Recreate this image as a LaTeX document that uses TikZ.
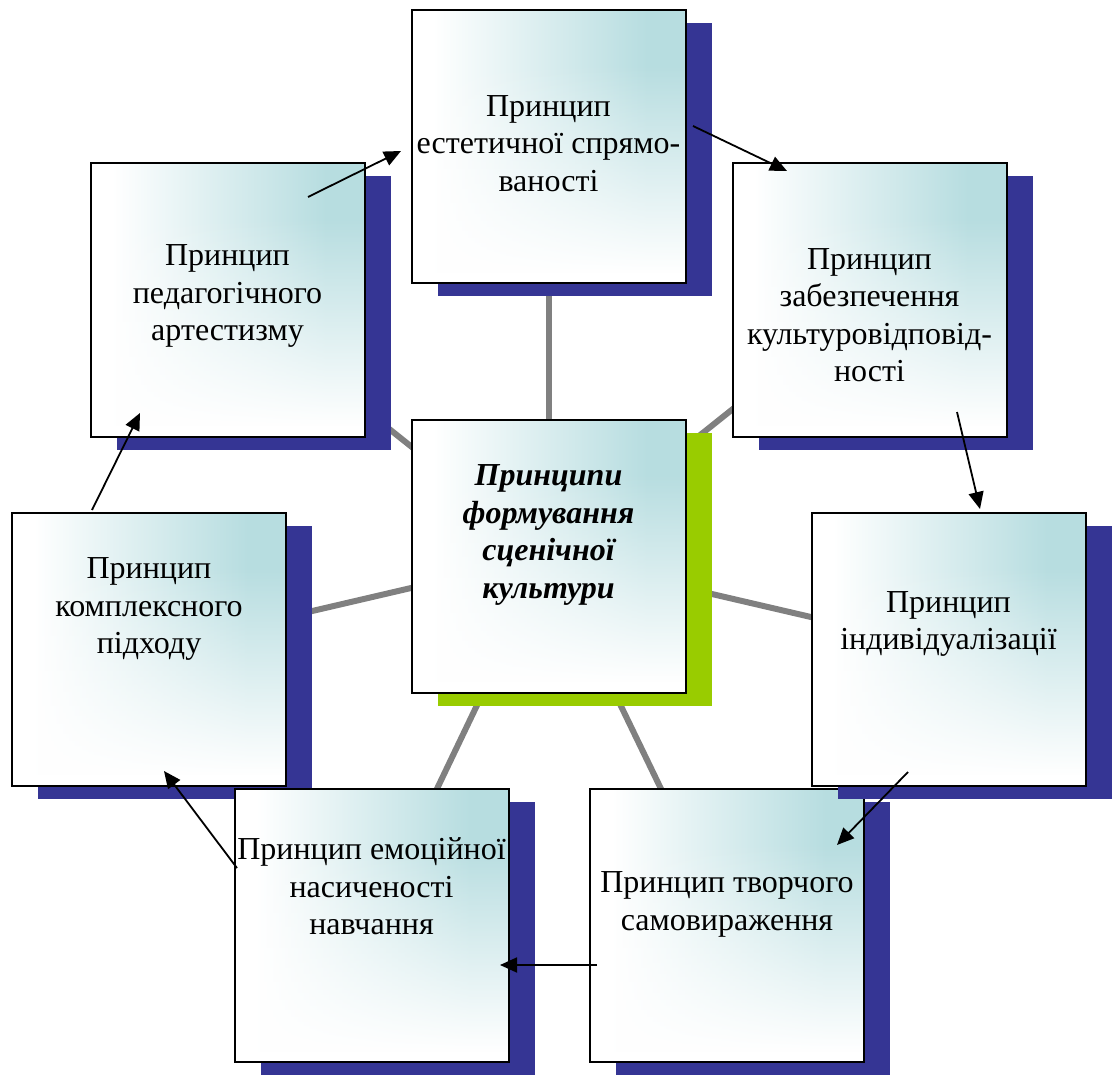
\documentclass[tikz,border=0pt]{standalone}
\usepackage{fontspec}
\setmainfont{Liberation Serif}
\usetikzlibrary{arrows.meta,shadows,fadings,calc,backgrounds}
\definecolor{boxteal}{RGB}{183,221,224}
\definecolor{shadeblue}{RGB}{53,53,148}
\definecolor{shadegreen}{RGB}{153,204,0}
\definecolor{spokegray}{RGB}{128,128,128}
\pgfdeclarehorizontalshading{boxfill}{100bp}{color(0bp)=(white); color(29bp)=(white); color(68bp)=(boxteal); color(100bp)=(boxteal)}
\pgfdeclareverticalshading{fadeupshade}{100bp}{color(0bp)=(white); color(27bp)=(white); color(65bp)=(black); color(100bp)=(black)}
\pgfdeclarefading{fadeup}{\pgfuseshading{fadeupshade}}
\tikzset{
  plainbox/.style={draw=black, line width=1pt, inner sep=0pt,
    minimum width=137pt, minimum height=136.5pt,
    preaction={shading=boxfill},
    preaction={fill=white, path fading=fadeup}},
  princ/.style={drop shadow={shadow xshift=13pt, shadow yshift=-6.5pt, fill=shadeblue, opacity=1},
    plainbox},
  core/.style={drop shadow={shadow xshift=13pt, shadow yshift=-6.5pt, fill=shadegreen, opacity=1},
    plainbox},
  ptext/.style={align=center, inner sep=0pt, font=\fontsize{16}{18.75}\selectfont},
  spoke/.style={draw=spokegray, line width=3pt},
  arr/.style={-{Triangle[length=8.5pt,width=7.5pt]}, line width=0.9pt}
}
\begin{document}
\begin{tikzpicture}[x=0.5pt, y=-0.5pt]
  \useasboundingbox (0,0) rectangle (1114,1075);
  \node[princ] (esth) at (548.5,146.5) {};
  \node[princ] (artist) at (227.5,300) {};
  \node[princ] (cult) at (869.5,300) {};
  \node[core] (core) at (548.5,556) {};
  \node[princ] (complex) at (149,649) {};
  \node[princ] (creat) at (727,925.5) {};
  \node[princ] (indiv) at (948.5,649) {};
  \node[princ] (emot) at (371.5,925.5) {};

  \begin{scope}[on background layer]
    \foreach \b in {esth,artist,cult,complex,indiv,emot,creat}
      \draw[spoke] (core.center) -- (\b.center);
  \end{scope}

  \node[ptext] (esthtxt) at ($(esth.center)+(0,-3)$) {Принцип\\естетичної спрямо-\\ваності};
  \node[ptext] (artisttxt) at ($(artist.center)+(0,-4)$) {Принцип\\педагогічного\\артестизму};
  \node[ptext] (culttxt) at ($(cult.center)+(0,15)$) {Принцип\\забезпечення\\культуровідповід-\\ності};
  \node[ptext, font=\fontsize{16}{18.75}\selectfont\bfseries\itshape] (coretxt) at ($(core.center)+(0,-21)$) {Принципи\\формування\\сценічної\\культури};
  \node[ptext] (complextxt) at ($(complex.center)+(0,-40)$) {Принцип\\комплексного\\підходу};
  \node[ptext] (indivtxt) at ($(indiv.center)+(0,-25)$) {Принцип\\індивідуалізації};
  \node[ptext] (emottxt) at ($(emot.center)+(0,-39)$) {Принцип емоційної\\насиченості\\навчання};
  \node[ptext] (creattxt) at ($(creat.center)+(0,-21)$) {Принцип творчого\\самовираження};

  \coordinate (a1s) at (308,197); \coordinate (a1e) at (401,151);
  \coordinate (a2s) at (693,126); \coordinate (a2e) at (787,171);
  \coordinate (a3s) at (957,412); \coordinate (a3e) at (980,509);
  \coordinate (a4s) at (908,772); \coordinate (a4e) at (837,845);
  \coordinate (a5s) at (597,965); \coordinate (a5e) at (500,965);
  \coordinate (a6s) at (237,868); \coordinate (a6e) at (164,771);
  \coordinate (a7s) at (92,510);  \coordinate (a7e) at (140,413);
  \foreach \i in {1,...,7}
    \draw[arr] (a\i s) -- (a\i e);
\end{tikzpicture}
\end{document}
